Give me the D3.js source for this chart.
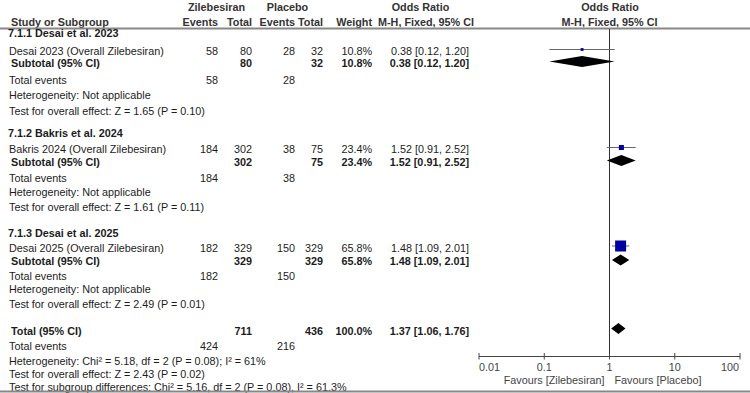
<!DOCTYPE html>
<html>
<head>
<meta charset="utf-8">
<script src="https://cdn.jsdelivr.net/npm/d3@7"></script>
<style>
  body { margin: 0; background: #fff; }
  svg { display: block; font-family: Arial, "Liberation Sans", sans-serif; font-size: 10.8px; }
</style>
</head>
<body>
<div id="chart"></div>
<script>
// data
const subgroups = ["7.1.1 Desai et al. 2023", "7.1.2 Bakris et al. 2024", "7.1.3 Desai et al. 2025"];
const studies = ["Desai 2023 (Overall Zilebesiran)", "Bakris 2024 (Overall Zilebesiran)", "Desai 2025 (Overall Zilebesiran)"];
const eventsZil = [58, 184, 182];
const totalZil = [80, 302, 329];
const eventsPla = [28, 38, 150];
const totalPla = [32, 75, 329];
const weights = [10.8, 23.4, 65.8];
const orEst = [0.38, 1.52, 1.48];
const orLow = [0.12, 0.91, 1.09];
const orHigh = [1.20, 2.52, 2.01];
const overallTests = ["Z = 1.65 (P = 0.10)", "Z = 1.61 (P = 0.11)", "Z = 2.49 (P = 0.01)"];

const pooledTotals = [711, 436];      // zilebesiran, placebo
const pooledEvents = [424, 216];
const pooledOR = [1.37, 1.06, 1.76];  // est, low, high
const pooledWeight = "100.0%";
const pooledHetero = "Heterogeneity: Chi\u00b2 = 5.18, df = 2 (P = 0.08); I\u00b2 = 61%";
const pooledTest = "Test for overall effect: Z = 2.43 (P = 0.02)";
const subgroupTest = "Test for subgroup differences: Chi\u00b2 = 5.16, df = 2 (P = 0.08), I\u00b2 = 61.3%";

const tickValues = [0.01, 0.1, 1, 10, 100];
const tickLabels = ["0.01", "0.1", "1", "10", "100"];

const W = 750, H = 393;
const svg = d3.select("#chart").append("svg").attr("width", W).attr("height", H);

// column anchors
const col = { label: 9, ev1: 218, tot1: 252, ev2: 295, tot2: 323, weight: 372, ci: 469 };
const textColor = "#1c1c1c";

// scale for the plot
const x = d3.scaleLog().domain([0.01, 100]).range([479, 740]);
const sq = d3.scalePow().exponent(0.75).domain([0, 65.8]).range([0, 11]);

// row positions per block: header, study, subtotal, total events, heterogeneity, test
const blockRows = [
    [33, 51, 62.5, 80, 95, 110.5],
    [132.5, 149, 161.5, 177.5, 192, 206.5],
    [232.5, 247.5, 261, 275.5, 289, 303.5]
];
const totalRows = [330.5, 346, 360.5, 374, 387];

const fmt = d => d.toFixed(2);
const ciText = (e, l, h) => `${fmt(e)} [${fmt(l)}, ${fmt(h)}]`;

function txt(xp, yp, s, opts = {}) {
    return svg.append("text")
        .attr("x", xp)
        .attr("y", yp + 4)
        .attr("text-anchor", opts.anchor || "start")
        .attr("font-weight", opts.bold ? "bold" : "normal")
        .attr("fill", opts.fill || textColor)
        .text(s);
}

// header
const hdr = "#333";
txt(216.5, 6.5, "Zilebesiran", { anchor: "middle", bold: true, fill: hdr });
txt(287.5, 6.5, "Placebo", { anchor: "middle", bold: true, fill: hdr });
txt(420.5, 6.5, "Odds Ratio", { anchor: "middle", bold: true, fill: hdr });
txt(610, 6.5, "Odds Ratio", { anchor: "middle", bold: true, fill: hdr });
txt(11, 21.5, "Study or Subgroup", { bold: true, fill: hdr });
txt(col.ev1, 21.5, "Events", { anchor: "end", bold: true, fill: hdr });
txt(col.tot1, 21.5, "Total", { anchor: "end", bold: true, fill: hdr });
txt(col.ev2, 21.5, "Events", { anchor: "end", bold: true, fill: hdr });
txt(col.tot2, 21.5, "Total", { anchor: "end", bold: true, fill: hdr });
txt(col.weight, 21.5, "Weight", { anchor: "end", bold: true, fill: hdr });
txt(426, 21.5, "M-H, Fixed, 95% CI", { anchor: "middle", bold: true, fill: hdr });
txt(609.5, 21.5, "M-H, Fixed, 95% CI", { anchor: "middle", bold: true, fill: hdr });

svg.append("line")
    .attr("x1", 0).attr("x2", W)
    .attr("y1", 28.5).attr("y2", 28.5)
    .attr("stroke", "#888").attr("stroke-width", 2);

// no-effect line
svg.append("line")
    .attr("x1", x(1)).attr("x2", x(1))
    .attr("y1", 29).attr("y2", 356.5)
    .attr("stroke", "#333").attr("stroke-width", 1);

const diamond = (e, l, h, cy, hh = 5.6) =>
    `M${x(l)},${cy} L${x(e)},${cy - hh} L${x(h)},${cy} L${x(e)},${cy + hh} Z`;

// subgroups
subgroups.forEach((name, i) => {
    const r = blockRows[i];
    txt(8, r[0], name, { bold: true });

    // study row
    txt(col.label, r[1], studies[i]);
    txt(col.ev1, r[1], eventsZil[i], { anchor: "end" });
    txt(col.tot1, r[1], totalZil[i], { anchor: "end" });
    txt(col.ev2, r[1], eventsPla[i], { anchor: "end" });
    txt(col.tot2, r[1], totalPla[i], { anchor: "end" });
    txt(col.weight, r[1], weights[i].toFixed(1) + "%", { anchor: "end" });
    txt(col.ci, r[1], ciText(orEst[i], orLow[i], orHigh[i]), { anchor: "end" });

    // subtotal row
    txt(11, r[2], "Subtotal (95% CI)", { bold: true });
    txt(col.tot1, r[2], totalZil[i], { anchor: "end", bold: true });
    txt(col.tot2, r[2], totalPla[i], { anchor: "end", bold: true });
    txt(col.weight, r[2], weights[i].toFixed(1) + "%", { anchor: "end", bold: true });
    txt(col.ci, r[2], ciText(orEst[i], orLow[i], orHigh[i]), { anchor: "end", bold: true });

    txt(col.label, r[3], "Total events");
    txt(col.ev1, r[3], eventsZil[i], { anchor: "end" });
    txt(col.ev2, r[3], eventsPla[i], { anchor: "end" });
    txt(col.label, r[4], "Heterogeneity: Not applicable");
    txt(col.label, r[5], "Test for overall effect: " + overallTests[i]);

    // CI whisker + square
    const my = r[1] - 1.5;
    svg.append("line")
        .attr("x1", x(orLow[i])).attr("x2", x(orHigh[i]))
        .attr("y1", my).attr("y2", my)
        .attr("stroke", "#666").attr("stroke-width", 1);
    const s = sq(weights[i]);
    svg.append("rect")
        .attr("x", x(orEst[i]) - s / 2).attr("y", my - s / 2)
        .attr("width", s).attr("height", s)
        .attr("fill", "#0000a0");

    // subtotal diamond
    svg.append("path")
        .attr("d", diamond(orEst[i], orLow[i], orHigh[i], r[2] - 1))
        .attr("fill", "#000");
});

// overall
txt(11, totalRows[0], "Total (95% CI)", { bold: true });
txt(col.tot1, totalRows[0], pooledTotals[0], { anchor: "end", bold: true });
txt(col.tot2, totalRows[0], pooledTotals[1], { anchor: "end", bold: true });
txt(col.weight, totalRows[0], pooledWeight, { anchor: "end", bold: true });
txt(col.ci, totalRows[0], ciText(pooledOR[0], pooledOR[1], pooledOR[2]), { anchor: "end", bold: true });
txt(col.label, totalRows[1], "Total events");
txt(col.ev1, totalRows[1], pooledEvents[0], { anchor: "end" });
txt(col.ev2, totalRows[1], pooledEvents[1], { anchor: "end" });
txt(col.label, totalRows[2], pooledHetero);
txt(col.label, totalRows[3], pooledTest);
txt(col.label, totalRows[4], subgroupTest);

svg.append("path")
    .attr("d", diamond(pooledOR[0], pooledOR[1], pooledOR[2], totalRows[0] - 2))
    .attr("fill", "#000");

// axis
const axisY = 356.5;
const gAxis = svg.append("g");
gAxis.append("line")
    .attr("x1", x(0.01)).attr("x2", x(100))
    .attr("y1", axisY).attr("y2", axisY)
    .attr("stroke", "#444");
gAxis.selectAll(".tick")
    .data(tickValues)
    .join("line")
    .attr("class", "tick")
    .attr("x1", d => x(d)).attr("x2", d => x(d))
    .attr("y1", axisY - 3.5).attr("y2", axisY + 3)
    .attr("stroke", "#444");
gAxis.selectAll(".lbl")
    .data(tickValues)
    .join("text")
    .attr("class", "lbl")
    .attr("x", (d, i) => i === tickValues.length - 1 ? x(d) - 1 : x(d))
    .attr("y", 371)
    .attr("text-anchor", (d, i) => i === 0 ? "start" : i === tickValues.length - 1 ? "end" : "middle")
    .attr("fill", "#444")
    .text((d, i) => tickLabels[i]);

txt(x(1) - 5, 379.5, "Favours [Zilebesiran]", { anchor: "end", fill: "#444" });
txt(x(1) + 5, 379.5, "Favours [Placebo]", { fill: "#444" });

svg.append("line")
    .attr("x1", 0).attr("x2", W)
    .attr("y1", 391.5).attr("y2", 391.5)
    .attr("stroke", "#888").attr("stroke-width", 2);
</script>
</body>
</html>
